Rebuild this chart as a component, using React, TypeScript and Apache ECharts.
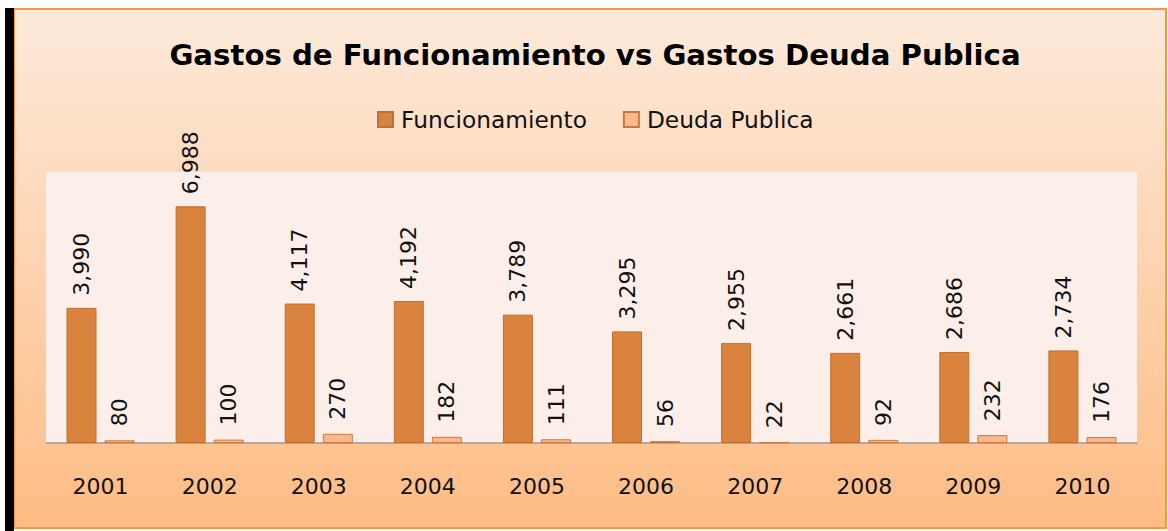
import React, { useEffect, useRef } from "react";
import * as echarts from "echarts";

const categories = ["2001", "2002", "2003", "2004", "2005", "2006", "2007", "2008", "2009", "2010"];
const funcionamiento = [3990, 6988, 4117, 4192, 3789, 3295, 2955, 2661, 2686, 2734];
const deudaPublica = [80, 100, 270, 182, 111, 56, 22, 92, 232, 176];
const seriesNames = ["Funcionamiento", "Deuda Publica"];
const titleText = "Gastos de Funcionamiento vs Gastos Deuda Publica";

const FONT = "'DejaVu Sans', sans-serif";

export default function App() {
  const ref = useRef<HTMLDivElement>(null);
  useEffect(() => {
    document.body.style.margin = "0";
    const chart = echarts.init(ref.current!, null, { renderer: "svg" });
    const fmt = (p: any) => Number(p.value).toLocaleString("en-US");
    const labelStyle = (distance: number) => ({
      show: true,
      position: "top",
      rotate: 90,
      align: "left",
      verticalAlign: "middle",
      distance,
      formatter: fmt,
      fontFamily: FONT,
      fontSize: 22,
      color: "#111",
    });
    chart.setOption({
      animation: false,
      graphic: [
        { type: "rect", shape: { x: 5, y: 8, width: 9, height: 523 }, style: { fill: "#000" }, z: 0 },
        {
          type: "rect",
          shape: { x: 14, y: 9, width: 1152, height: 519 },
          style: {
            fill: new echarts.graphic.LinearGradient(0, 0, 0, 1, [
              { offset: 0, color: "#fdeadb" },
              { offset: 1, color: "#febc84" },
            ]),
            stroke: "#f79646",
            lineWidth: 2,
          },
          z: -1,
          silent: true,
        },
      ],
      title: {
        text: titleText,
        left: 590,
        textAlign: "center",
        top: 35,
        textStyle: { fontFamily: FONT, fontWeight: "bold", fontSize: 29.2, color: "#000" },
      },
      legend: {
        top: 103,
        left: 372,
        icon: "rect",
        itemWidth: 15,
        itemHeight: 15,
        itemGap: 36,
        textStyle: { fontFamily: FONT, fontSize: 23.3, color: "#111", padding: [0, 0, 0, 3] },
        data: seriesNames,
      },
      grid: {
        left: 46,
        right: 31,
        top: 172,
        bottom: 88,
        show: true,
        backgroundColor: "#fcefea",
        borderWidth: 0,
      },
      xAxis: {
        type: "category",
        data: categories,
        axisLine: { lineStyle: { color: "#999", width: 1.5 } },
        axisTick: { show: false },
        axisLabel: { fontFamily: FONT, fontSize: 22, color: "#111", margin: 32 },
      },
      yAxis: {
        type: "value",
        min: 0,
        max: 8000,
        show: false,
        splitLine: { show: false },
      },
      series: [
        {
          name: seriesNames[0],
          type: "bar",
          data: funcionamiento,
          barWidth: 30,
          barGap: "27%",
          itemStyle: { color: "#d9833e", borderColor: "#c0702f", borderWidth: 1 },
          label: labelStyle(12),
        },
        {
          name: seriesNames[1],
          type: "bar",
          data: deudaPublica,
          barWidth: 30,
          itemStyle: { color: "#fbb88f", borderColor: "#c87a40", borderWidth: 1 },
          label: labelStyle(14),
        },
      ],
    });
    return () => chart.dispose();
  }, []);
  return <div ref={ref} style={{ width: 1168, height: 531 }} />;
}
